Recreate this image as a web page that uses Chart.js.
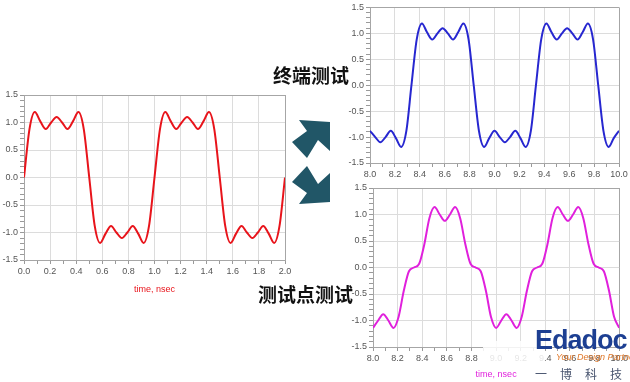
<!DOCTYPE html>
<html>
<head>
<meta charset="utf-8">
<script src="https://cdn.jsdelivr.net/npm/chart.js@4.4.0/dist/chart.umd.min.js"></script>
<style>
  body { margin: 0; background: #fff; width: 630px; height: 382px; overflow: hidden; position: relative; font-family: "Liberation Sans", Arial, sans-serif; }
  .box { position: absolute; }
  .cn { position: absolute; font-family: "Noto Sans CJK SC", sans-serif; font-weight: bold; font-size: 19px; line-height: 1; color: #111; white-space: nowrap; }
  #wash { position: absolute; left: 483px; top: 341px; width: 62px; height: 24px; background: rgba(255,255,255,0.85); }
  #brand { position: absolute; left: 535px; top: 327px; font-size: 27px; font-weight: bold; color: #1d3f92; letter-spacing: -1px; line-height: 1; }
  #slogan { position: absolute; left: 556px; top: 352px; font-size: 9px; font-style: italic; color: #e0782a; white-space: nowrap; }
  #cnbrand { position: absolute; left: 535px; top: 365px; font-family: "Noto Sans CJK SC", sans-serif; font-size: 12px; color: #4a5670; letter-spacing: 13px; white-space: nowrap; }
</style>
</head>
<body>
<svg class="box" width="630" height="382" style="left:0;top:0">
  <polygon fill="#215667" points="299,120 330,122 330,151 318,140 307,158 292,142 307,131"/>
  <polygon fill="#215667" points="299,204 330,202 330,173 318,184 307,166 292,182 307,193"/>
</svg>
<div class="box" style="left:0;top:85px;width:295px;height:215px"><canvas id="chartLeft"></canvas></div>
<div class="box" style="left:345px;top:0;width:285px;height:182px"><canvas id="chartTop"></canvas></div>
<div class="box" style="left:348px;top:180px;width:282px;height:202px"><canvas id="chartBottom"></canvas></div>
<div class="cn" style="left:273px;top:65px">终端测试</div>
<div class="cn" style="left:258px;top:284px">测试点测试</div>
<div id="wash"></div>
<div id="brand">Edadoc</div>
<div id="slogan">Your Design Partner</div>
<div id="cnbrand">一博科技</div>
<script>
var leftTime = [0, 0.042, 0.083, 0.125, 0.167, 0.208, 0.25, 0.292, 0.333, 0.375, 0.417, 0.458,
  0.5, 0.542, 0.583, 0.625, 0.667, 0.708, 0.75, 0.792, 0.833, 0.875, 0.917, 0.958,
  1.0, 1.042, 1.083, 1.125, 1.167, 1.208, 1.25, 1.292, 1.333, 1.375, 1.417, 1.458,
  1.5, 1.542, 1.583, 1.625, 1.667, 1.708, 1.75, 1.792, 1.833, 1.875, 1.917, 1.958, 2.0];

var rightTime = [8.0, 8.042, 8.083, 8.125, 8.167, 8.208, 8.25, 8.292, 8.333, 8.375, 8.417, 8.458,
  8.5, 8.542, 8.583, 8.625, 8.667, 8.708, 8.75, 8.792, 8.833, 8.875, 8.917, 8.958,
  9.0, 9.042, 9.083, 9.125, 9.167, 9.208, 9.25, 9.292, 9.333, 9.375, 9.417, 9.458,
  9.5, 9.542, 9.583, 9.625, 9.667, 9.708, 9.75, 9.792, 9.833, 9.875, 9.917, 9.958, 10.0];

// source waveform, 0 - 2 nsec
var redVolts = [0, 0.88, 1.19, 1.02, 0.88, 1.00, 1.10, 1.00, 0.88, 1.02, 1.19, 0.88,
  0, -0.88, -1.19, -1.02, -0.88, -1.00, -1.10, -1.00, -0.88, -1.02, -1.19, -0.88,
  0, 0.88, 1.19, 1.02, 0.88, 1.00, 1.10, 1.00, 0.88, 1.02, 1.19, 0.88,
  0, -0.88, -1.19, -1.02, -0.88, -1.00, -1.10, -1.00, -0.88, -1.02, -1.19, -0.88, 0];

// 终端测试, 8 - 10 nsec
var blueVolts = [-0.88, -1.00, -1.10, -1.00, -0.88, -1.02, -1.19, -0.88, 0, 0.88, 1.19, 1.02,
  0.88, 1.00, 1.10, 1.00, 0.88, 1.02, 1.19, 0.88, 0, -0.88, -1.19, -1.02,
  -0.88, -1.00, -1.10, -1.00, -0.88, -1.02, -1.19, -0.88, 0, 0.88, 1.19, 1.02,
  0.88, 1.00, 1.10, 1.00, 0.88, 1.02, 1.19, 0.88, 0, -0.88, -1.19, -1.02, -0.88];

// 测试点测试, 8 - 10 nsec
var magentaVolts = [-1.14, -1.00, -0.88, -1.00, -1.14, -0.93, -0.44, -0.07, 0, 0.07, 0.44, 0.93,
  1.14, 1.00, 0.88, 1.00, 1.14, 0.93, 0.44, 0.07, 0, -0.07, -0.44, -0.93,
  -1.14, -1.00, -0.88, -1.00, -1.14, -0.93, -0.44, -0.07, 0, 0.07, 0.44, 0.93,
  1.14, 1.00, 0.88, 1.00, 1.14, 0.93, 0.44, 0.07, 0, -0.07, -0.44, -0.93, -1.14];

var yTicks = ['1.5', '1.0', '0.5', '0.0', '-0.5', '-1.0', '-1.5'];
var xTitle = 'time, nsec';

function points(times, volts) {
  var pts = [];
  for (var i = 0; i < times.length; i++) {
    pts.push({ x: times[i], y: volts[i] });
  }
  return pts;
}

function gridColor(ctx, every) {
  var v = ctx.tick ? ctx.tick.value : 0;
  var scale = ctx.scale;
  if (Math.abs(v - scale.min) < 1e-6 || Math.abs(v - scale.max) < 1e-6) return '#a6a6a6';
  if (Math.round(v * 10) % every === 0) return '#dcdcdc';
  return 'rgba(0,0,0,0)';
}

function makeChart(id, times, volts, color, xMin, xMax, opts) {
  var ctx = document.getElementById(id).getContext('2d');
  return new Chart(ctx, {
    type: 'line',
    data: {
      datasets: [{
        data: points(times, volts),
        borderColor: color,
        borderWidth: 2,
        pointRadius: 0,
        fill: false,
        cubicInterpolationMode: 'monotone'
      }]
    },
    options: {
      responsive: true,
      maintainAspectRatio: false,
      animation: false,
      events: [],
      layout: { padding: opts.padding },
      plugins: { legend: { display: false }, tooltip: { enabled: false } },
      scales: {
        x: {
          type: 'linear',
          min: xMin,
          max: xMax,
          afterFit: function(scale) { scale.height = opts.xHeight; },
          border: { color: '#a6a6a6' },
          grid: {
            color: function(c) { return gridColor(c, 2); },
            tickColor: '#9a9a9a',
            tickLength: 4
          },
          ticks: {
            stepSize: 0.1,
            autoSkip: false,
            maxRotation: 0,
            padding: 2,
            color: '#555',
            font: { family: '"Liberation Sans", Arial', size: 9 },
            callback: function(v) {
              return Math.round(v * 10) % 2 === 0 ? v.toFixed(1) : '';
            }
          },
          title: {
            display: !!opts.title,
            text: xTitle,
            color: color,
            font: { family: '"Liberation Sans", Arial', size: 9 },
            padding: { top: 0, bottom: opts.titlePad || 0 }
          }
        },
        y: {
          min: -1.5,
          max: 1.5,
          afterFit: function(scale) { scale.width = opts.yWidth; },
          border: { color: '#a6a6a6' },
          grid: {
            color: function(c) { return gridColor(c, 5); },
            tickColor: '#9a9a9a',
            tickLength: 4
          },
          ticks: {
            stepSize: 0.1,
            autoSkip: false,
            padding: 2,
            color: '#555',
            font: { family: '"Liberation Sans", Arial', size: 9 },
            callback: function(v) {
              var k = Math.round(v * 10);
              if (k % 5 !== 0) return '';
              return yTicks[(15 - k) / 5];
            }
          }
        }
      }
    }
  });
}

makeChart('chartLeft', leftTime, redVolts, '#e8141b', 0, 2, {
  padding: { top: 10, right: 10, left: 0, bottom: 0 },
  yWidth: 24, xHeight: 40, title: true, titlePad: 5
});
makeChart('chartTop', rightTime, blueVolts, '#2727d0', 8, 10, {
  padding: { top: 5, right: 11, left: 0, bottom: 0 },
  yWidth: 25, xHeight: 19
});
makeChart('chartBottom', rightTime, magentaVolts, '#e020dc', 8, 10, {
  padding: { top: 8, right: 7, left: 0, bottom: 0 },
  yWidth: 25, xHeight: 35, title: true, titlePad: 2
});
</script>
</body>
</html>
